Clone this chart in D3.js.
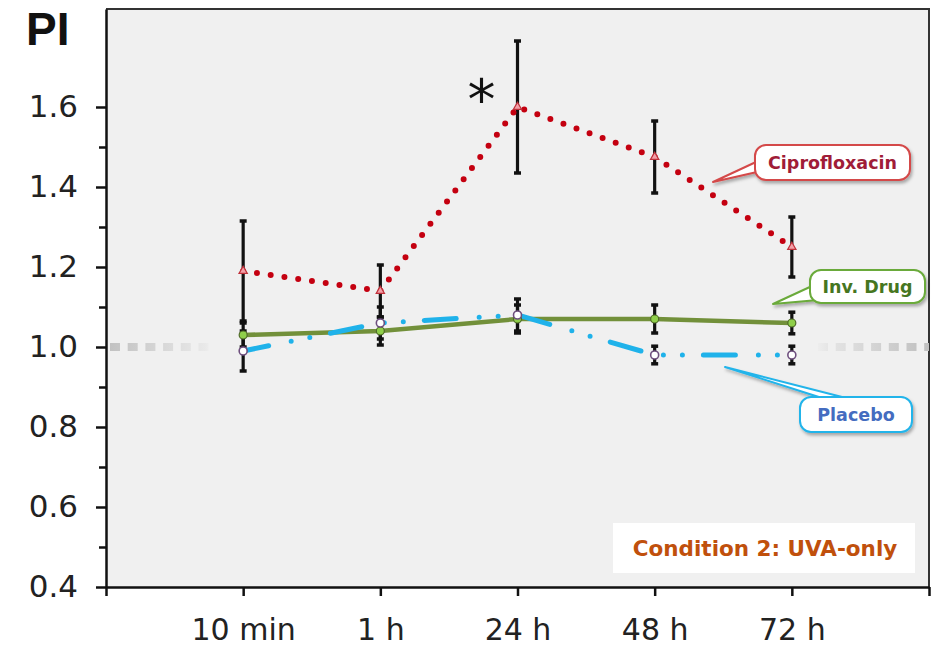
<!DOCTYPE html>
<html lang="en">
  <head>
    <meta charset="UTF-8" />
    <title>PI - Condition 2: UVA-only</title>
  </head>
  <style>
    body {
      margin: 0;
      background: #fff;
    }
    text {
      font-family: 'DejaVu Sans', Verdana, sans-serif;
    }
  </style>
  <body>
    <svg id="svg" width="937" height="648"></svg>

    <script src="https://d3js.org/d3.v7.min.js"></script>
    <script>
      // values
      const timepoints = ['10 min', '1 h', '24 h', '48 h', '72 h'];
      const cipro = [1.19, 1.14, 1.6, 1.475, 1.25];
      const ciproErr = [0.125, 0.065, 0.165, 0.09, 0.075];
      const invDrug = [1.03, 1.04, 1.07, 1.07, 1.06];
      const invDrugErr = [0.03, 0.035, 0.035, 0.035, 0.027];
      const placebo = [0.99, 1.06, 1.08, 0.98, 0.98];
      const placeboErr = [0.05, 0.04, 0.04, 0.022, 0.022];
      const yTicks = [0.4, 0.5, 0.6, 0.7, 0.8, 0.9, 1.0, 1.1, 1.2, 1.3, 1.4, 1.5, 1.6];

      const plotLeft = 106, plotRight = 929, plotTop = 9, plotBottom = 587;
      const svg = d3.select('#svg');

      const x = d3.scaleLinear().domain([0, timepoints.length + 1]).range([plotLeft, plotRight]);
      const y = d3.scaleLinear().domain([0.4, 1.845]).range([plotBottom, plotTop]);

      const series = [
        { name: 'Ciprofloxacin', values: cipro, err: ciproErr },
        { name: 'Inv. Drug', values: invDrug, err: invDrugErr },
        { name: 'Placebo', values: placebo, err: placeboErr }
      ];

      const defs = svg.append('defs');

      // plot background + frame
      svg.append('rect')
        .attr('x', plotLeft).attr('y', plotTop)
        .attr('width', plotRight - plotLeft).attr('height', plotBottom - plotTop)
        .attr('fill', '#f0f0f0');
      svg.append('path')
        .attr('d', `M${plotLeft},${plotTop}H${plotRight}V${plotBottom}`)
        .attr('fill', 'none').attr('stroke', '#333').attr('stroke-width', 2);

      // faded reference line at 1.0
      const grad = defs.append('linearGradient')
        .attr('id', 'refgrad').attr('gradientUnits', 'userSpaceOnUse')
        .attr('x1', plotLeft).attr('x2', plotRight).attr('y1', 0).attr('y2', 0);
      [[0, 1], [0.12, 0.15], [0.13, 0], [0.86, 0], [0.88, 0.25], [1, 1]].forEach(([o, a]) => {
        grad.append('stop').attr('offset', o).attr('stop-color', '#c0c0c0').attr('stop-opacity', a);
      });
      svg.append('line')
        .attr('x1', plotLeft + 4).attr('x2', plotRight)
        .attr('y1', y(1)).attr('y2', y(1))
        .attr('stroke', 'url(#refgrad)').attr('stroke-width', 8)
        .attr('stroke-dasharray', '10 7.7');

      // callout shadow
      const shadow = defs.append('filter').attr('id', 'shadow')
        .attr('x', '-20%').attr('y', '-20%').attr('width', '140%').attr('height', '160%');
      shadow.append('feDropShadow').attr('dx', 1.5).attr('dy', 2.5)
        .attr('stdDeviation', 1.5).attr('flood-color', '#000').attr('flood-opacity', 0.3);

      // error bars
      const bars = svg.append('g').attr('stroke', '#111');
      series.forEach((s) => {
        s.values.forEach((v, i) => {
          const cx = x(i + 1);
          const g = bars.append('g');
          g.append('line').attr('x1', cx).attr('x2', cx)
            .attr('y1', y(v - s.err[i])).attr('y2', y(v + s.err[i]))
            .attr('stroke-width', 3.2);
          [v - s.err[i], v + s.err[i]].forEach((e) => {
            g.append('line').attr('x1', cx - 3.5).attr('x2', cx + 3.5)
              .attr('y1', y(e)).attr('y2', y(e)).attr('stroke-width', 3.5);
          });
        });
      });

      const line = d3.line().x((d, i) => x(i + 1)).y((d) => y(d));

      // Ciprofloxacin: red dotted
      svg.append('path').datum(cipro)
        .attr('d', line).attr('fill', 'none')
        .attr('stroke', '#c40010').attr('stroke-width', 6)
        .attr('stroke-linecap', 'round').attr('stroke-dasharray', '0 13.9');

      // Inv. Drug: green solid
      svg.append('path').datum(invDrug)
        .attr('d', line).attr('fill', 'none')
        .attr('stroke', '#72903a').attr('stroke-width', 4.5);

      // Placebo: blue dash-dot-dot
      svg.append('path').datum(placebo)
        .attr('d', line).attr('fill', 'none')
        .attr('stroke', '#1fb2ea').attr('stroke-width', 5)
        .attr('stroke-linecap', 'round').attr('stroke-dasharray', '32 23 0 19 0 21')
        .attr('stroke-dashoffset', 6);

      // markers
      svg.append('g').selectAll('path').data(cipro).enter().append('path')
        .attr('transform', (d, i) => `translate(${x(i + 1)},${y(d)})`)
        .attr('d', d3.symbol(d3.symbolTriangle, 30))
        .attr('fill', '#f2a0a8').attr('stroke', '#c0303a').attr('stroke-width', 1.2);
      svg.append('g').selectAll('circle').data(invDrug).enter().append('circle')
        .attr('cx', (d, i) => x(i + 1)).attr('cy', (d) => y(d)).attr('r', 4)
        .attr('fill', '#8fcf4a').attr('stroke', '#4f6a28').attr('stroke-width', 1.2);
      svg.append('g').selectAll('circle').data(placebo).enter().append('circle')
        .attr('cx', (d, i) => x(i + 1)).attr('cy', (d) => y(d)).attr('r', 4)
        .attr('fill', '#fff').attr('stroke', '#6e4f7e').attr('stroke-width', 1.6);

      // axes
      const yAxis = svg.append('g')
        .attr('transform', `translate(${plotLeft},0)`)
        .call(d3.axisLeft(y).tickValues(yTicks).tickSize(10).tickSizeOuter(0).tickPadding(18)
          .tickFormat((d) => (Math.round(d * 10) % 2 === 0 ? d3.format('.1f')(d) : '')));
      yAxis.selectAll('.tick line')
        .attr('stroke', '#111').attr('stroke-width', 2.5)
        .attr('x2', (d) => (Math.round(d * 10) % 2 === 0 ? -10 : -7));

      const xAxis = svg.append('g')
        .attr('transform', `translate(0,${plotBottom})`)
        .call(d3.axisBottom(x).tickValues(d3.range(0, timepoints.length + 2)).tickSize(9)
          .tickSizeOuter(0).tickPadding(16)
          .tickFormat((d) => timepoints[d - 1] || ''));
      xAxis.selectAll('.tick line').attr('stroke', '#111').attr('stroke-width', 2.5);

      svg.selectAll('.domain').attr('stroke', '#111').attr('stroke-width', 2.5);
      svg.selectAll('.tick text')
        .attr('fill', '#222').style('font-size', '31px')
        .style('font-family', "'DejaVu Sans', Verdana, sans-serif");
      xAxis.selectAll('.tick text').style('font-size', '30px').attr('dy', '0.92em');

      // axis title
      svg.append('text').attr('x', 26).attr('y', 45)
        .style('font-family', "'Liberation Sans', Arial, sans-serif")
        .style('font-weight', 'bold').style('font-size', '46px')
        .attr('fill', '#111').text('PI');

      // significance mark
      svg.append('text').attr('x', x(3) - 36).attr('y', 119)
        .attr('text-anchor', 'middle').style('font-size', '56px')
        .attr('fill', '#111').text('*');

      // condition label
      svg.append('rect').attr('x', 613).attr('y', 523)
        .attr('width', 302).attr('height', 50).attr('fill', '#fff');
      svg.append('text').attr('x', 765).attr('y', 556)
        .attr('text-anchor', 'middle').style('font-size', '21.5px')
        .style('font-weight', 'bold').attr('fill', '#c0500c')
        .text('Condition 2: UVA-only');

      // callouts
      const callouts = [
        { label: 'Ciprofloxacin', border: '#d44a4a', color: '#a01c38',
          box: [755, 145, 155, 35], tail: [[713, 182], [756, 162], [757, 172]] },
        { label: 'Inv. Drug', border: '#6aaa3a', color: '#46761f',
          box: [810, 270, 115, 33], tail: [[773, 304], [812, 286], [818, 300]] },
        { label: 'Placebo', border: '#22b4ea', color: '#446cc0',
          box: [800, 397, 112, 35], tail: [[725, 367], [822, 398], [846, 398]] }
      ];
      callouts.forEach((c) => {
        const g = svg.append('g');
        const [bx, by, bw, bh] = c.box;
        const g2 = g.append('g').attr('filter', 'url(#shadow)');
        g2.append('polygon').attr('points', c.tail.join(' '))
          .attr('fill', '#fff').attr('stroke', c.border).attr('stroke-width', 2)
          .attr('stroke-linejoin', 'round');
        g2.append('rect').attr('x', bx).attr('y', by).attr('width', bw).attr('height', bh)
          .attr('rx', 11).attr('fill', '#fff').attr('stroke', c.border).attr('stroke-width', 2);
        // hide the seam between tail and box
        const [t, a, b] = c.tail;
        const inset = (p) => [p[0] + (p[0] - t[0]) * 0.12, p[1] + (p[1] - t[1]) * 0.12];
        g.append('polygon').attr('points', [t, a, b].map((p, i) => (i === 0 ? [(a[0] + b[0]) / 2, (a[1] + b[1]) / 2] : inset(p))).join(' '))
          .attr('fill', '#fff');
        g.append('text').attr('x', bx + bw / 2).attr('y', by + bh / 2 + 6.5)
          .attr('text-anchor', 'middle').style('font-size', '17.5px')
          .style('font-weight', 'bold').attr('fill', c.color).text(c.label);
      });
    </script>
  </body>
</html>
